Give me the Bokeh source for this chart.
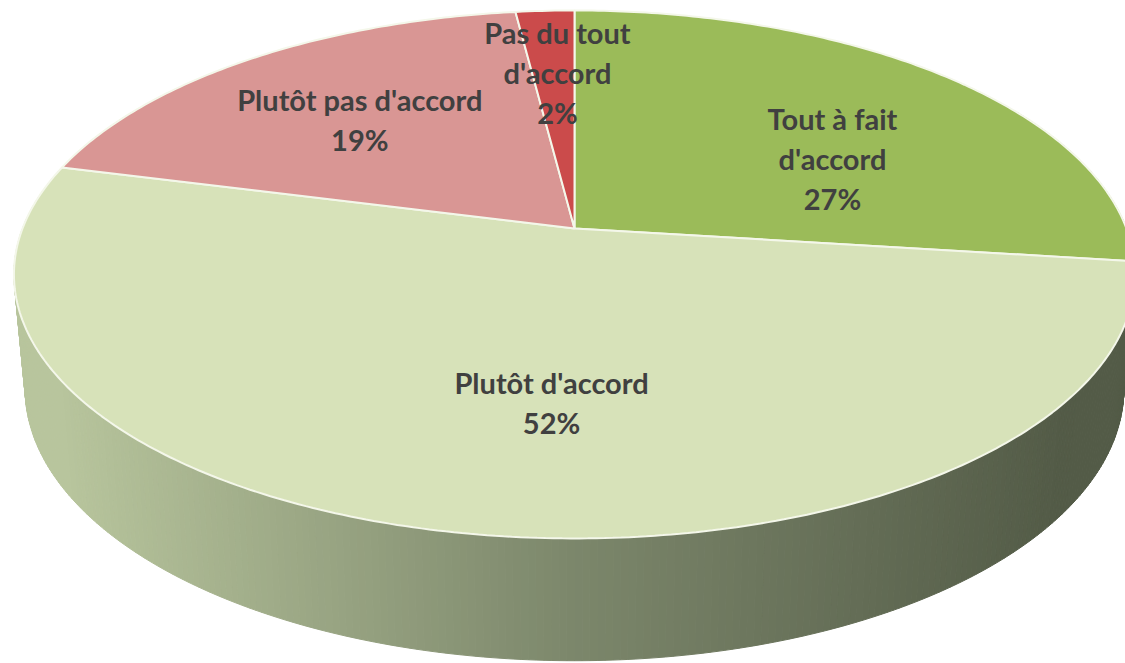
import numpy as np
from bokeh.plotting import figure
from bokeh.embed import file_html
from bokeh.resources import INLINE
from bokeh.core.properties import value

labels = ["Tout à fait\nd'accord\n27%", "Plutôt d'accord\n52%", "Plutôt pas d'accord\n19%", "Pas du tout\nd'accord\n2%"]
shares = [27, 52, 19, 2]
colors = ["#9bbb59", "#d7e2b9", "#d99694", "#cb4b4b"]

W, H = 1125, 663
AX, BY, K = 552.0, 256.0, 0.174
CX, CY = 574.0, 435.0  # y up: 663-228
DROP, SX, SY = 113.0, 0.98, 1.03  # bottom rim relative to the top rim
TXT = "#404040"

def project(theta):
    x, y = np.sin(theta), np.cos(theta)
    d = 1 + K * y
    return CX + AX * x / d, CY + BY * y / d

def bottom(x, y):
    return CX + (x - CX) * SX, CY - DROP + (y - CY) * SY

p = figure(width=W, height=H, x_range=(0, W), y_range=(0, H), toolbar_location=None,
           output_backend="svg", min_border=0, outline_line_color=None,
           background_fill_color="white", border_fill_color="white")
p.axis.visible = False
p.grid.visible = False

# extruded rim, shaded from left (light) to right (dark)
ts = np.radians(np.linspace(60, 300, 361))
light = np.array([0xb8, 0xc5, 0x9d]); mid = np.array([0x7d, 0x88, 0x6c]); dark = np.array([0x53, 0x5b, 0x47])
xs, ys, cs = [], [], []
for a, b in zip(ts[:-1], ts[1:]):
    xa, ya = project(np.array([a, b]))
    xb, yb = bottom(xa, ya)
    xs.append([xa[0], xa[1], xb[1], xb[0]])
    ys.append([ya[0], ya[1], yb[1], yb[0]])
    f = np.clip((0.5 * (xa[0] + xa[1]) - 60) / 1010, 0, 1)
    if f < 0.5:
        c = light + (mid - light) * f / 0.5
    else:
        c = mid + (dark - mid) * (f - 0.5) / 0.5
    cs.append("#%02x%02x%02x" % tuple(int(v) for v in c))
p.patches(xs, ys, fill_color=cs, line_color=cs, line_width=1)

# top slices
start = 0.0
for s, c in zip(shares, colors):
    th = np.radians(np.linspace(start, start + s * 3.6, max(int(s * 5), 8)))
    x, y = project(th)
    p.patch(np.r_[CX, x], np.r_[CY, y], fill_color=c, line_color="#f4f7ea", line_width=2)
    start += s * 3.6

# labels: placed from each slice's mid-angle, an angular offset and a radial fraction
label_r = [0.569, 0.609, 0.623, 0.682]
label_da = [11.0, -7.3, -1.0, 0.7]
start = 0.0
for s, lab, r, da in zip(shares, labels, label_r, label_da):
    mid_a = np.radians(start + s * 1.8 + da)
    start += s * 3.6
    x0, y0 = np.sin(mid_a) * r, np.cos(mid_a) * r
    d = 1 + K * y0
    p.text([CX + AX * x0 / d], [CY + BY * y0 / d], text=[lab], text_align="center", text_baseline="middle",
           text_font=value("Lato"), text_font_style="bold", text_font_size="29px",
           text_color=TXT, text_line_height=1.15)

open("out.html", "w").write(file_html(p, INLINE))
